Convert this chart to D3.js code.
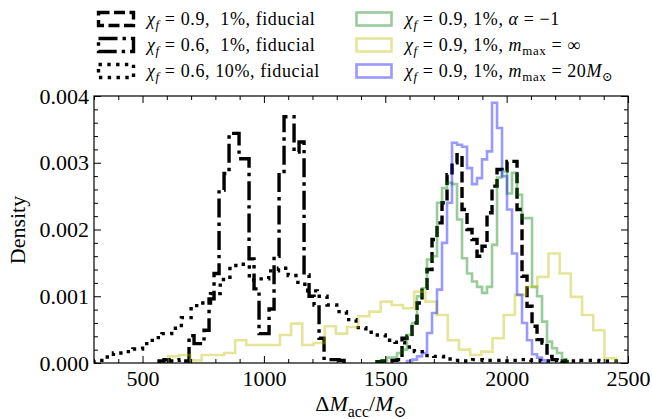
<!DOCTYPE html>
<html>
<head>
<meta charset="utf-8">
<style>
  body { margin: 0; background: #fff; }
  svg text { font-family: "Liberation Serif", "DejaVu Serif", serif; fill: #000; }
</style>
</head>
<body>
<div id="graphic"></div>
<script src="https://cdn.jsdelivr.net/npm/d3@7/dist/d3.min.js"></script>
<script>
// ---- data (densities) ----
// chi_f = 0.9, 1%, fiducial  (black dashed)
var fid09Start = 1466, fid09Width = 20.6;
var fid09 = [0.00002, 0.00003, 0.00003, 0.00004, 0.00005, 0.00037, 0.00040, 0.00060, 0.00090, 0.00112,
             0.00140, 0.00185, 0.00210, 0.00240, 0.00282, 0.00300, 0.00312, 0.00230, 0.00200, 0.00185,
             0.00160, 0.00175, 0.00225, 0.00265, 0.00290, 0.00288, 0.00302, 0.00302, 0.00230, 0.00130,
             0.00085, 0.00055, 0.00035, 0.00030, 0.00010, 0.00005, 0.00003, 0.00002];

// chi_f = 0.6, 1%, fiducial  (black dash-dot)
var fid06Start = 568, fid06Width = 20.6;
var fid06 = [0.00003, 0.00005, 0.00003, 0.00004, 0.00005, 0.00003, 0.00041, 0.00029, 0.00029, 0.00049,
             0.00096, 0.00134, 0.00259, 0.00284, 0.00344, 0.00344, 0.00306, 0.00306, 0.00156, 0.00111,
             0.00044, 0.00044, 0.00081, 0.00160, 0.00287, 0.00369, 0.00369, 0.00316, 0.00331, 0.00132,
             0.00100, 0.00087, 0.00037, 0.00007, 0.00005, 0.00005, 0.00004];

// chi_f = 0.6, 10%, fiducial  (black dotted)
var wide06Start = 300, wide06Width = 40;
var wide06 = [0.00004, 0.00009, 0.00015, 0.00017, 0.00021, 0.00029, 0.00038, 0.00044, 0.00052, 0.00068,
              0.00086, 0.00090, 0.00104, 0.00125, 0.00146, 0.00148, 0.00124, 0.00126, 0.00138, 0.00142,
              0.00131, 0.00118, 0.00108, 0.00100, 0.00087, 0.00077, 0.00065, 0.00053, 0.00046, 0.00042,
              0.00034, 0.00031, 0.00024, 0.00017, 0.00011, 0.00010, 0.00006, 0.00004, 0.00003, 0.00005,
              0.00004, 0.00004, 0.00003, 0.00004, 0.00005, 0.00004, 0.00003, 0.00004, 0.00004, 0.00003,
              0.00004, 0.00004, 0.00003, 0.00003];

// chi_f = 0.9, 1%, alpha = -1  (green)
var alphaStart = 1466, alphaWidth = 20.6;
var alphaM1 = [0.00002, 0.00004, 0.00008, 0.00008, 0.00015, 0.00020, 0.00042, 0.00060, 0.00100, 0.00112,
               0.00155, 0.00160, 0.00240, 0.00262, 0.00270, 0.00268, 0.00215, 0.00157, 0.00134, 0.00122,
               0.00114, 0.00105, 0.00114, 0.00177, 0.00278, 0.00287, 0.00254, 0.00285, 0.00252, 0.00217,
               0.00217, 0.00114, 0.00100, 0.00062, 0.00032, 0.00022, 0.00015, 0.00005];

// chi_f = 0.9, 1%, m_max = inf  (yellow)
var mInfStart = 605, mInfWidth = 46.1;
var mInf = [0.00010, 0.00012, 0.00004, 0.00012, 0.00012, 0.00015, 0.00034, 0.00027, 0.00027, 0.00027,
            0.00042, 0.00059, 0.00027, 0.00030, 0.00055, 0.00044, 0.00054, 0.00070, 0.00077, 0.00092,
            0.00087, 0.00082, 0.00107, 0.00092, 0.00072, 0.00034, 0.00020, 0.00012, 0.00017, 0.00037,
            0.00072, 0.00102, 0.00114, 0.00129, 0.00164, 0.00134, 0.00099, 0.00072, 0.00049, 0.00007];

// chi_f = 0.9, 1%, m_max = 20 Msun  (blue)
var m20Start = 1589.6, m20Width = 20.6;
var m20 = [0.00003, 0.00005, 0.00010, 0.00015, 0.00045, 0.00075, 0.00110, 0.00180, 0.00240, 0.00330,
           0.00327, 0.00324, 0.00292, 0.00268, 0.00277, 0.00305, 0.00317, 0.00390, 0.00352, 0.00280,
           0.00230, 0.00164, 0.00102, 0.00060, 0.00034, 0.00013, 0.00008, 0.00004];

var xTicks = [500, 1000, 1500, 2000, 2500];
var yTicks = [0, 0.001, 0.002, 0.003, 0.004];

// ---- layout ----
var W = 652, H = 419;
var plotL = 94, plotR = 628, plotT = 96, plotB = 363;
var fs = 22;
var serif = '"Liberation Serif", "DejaVu Serif", serif';

var svg = d3.select("#graphic").append("svg")
    .attr("width", W).attr("height", H);

var x = d3.scaleLinear().domain([300, 2500]).range([plotL, plotR]);
var y = d3.scaleLinear().domain([0, 0.004]).range([plotB, plotT]);

svg.append("clipPath").attr("id", "plotclip")
  .append("rect").attr("x", plotL).attr("y", plotT)
  .attr("width", plotR - plotL).attr("height", plotB - plotT);

var series = [
  {start: fid09Start, width: fid09Width, vals: fid09, color: "#000", op: 1, lw: 3.4, dash: "11,4.5"},
  {start: fid06Start, width: fid06Width, vals: fid06, color: "#000", op: 1, lw: 3.4, dash: "19,5,3.4,5"},
  {start: wide06Start, width: wide06Width, vals: wide06, color: "#000", op: 1, lw: 3.4, dash: "3.4,5.4"},
  {start: alphaStart, width: alphaWidth, vals: alphaM1, color: "green", op: 0.4, lw: 2.6, dash: null},
  {start: mInfStart, width: mInfWidth, vals: mInf, color: "#bfbf00", op: 0.4, lw: 2.6, dash: null},
  {start: m20Start, width: m20Width, vals: m20, color: "blue", op: 0.4, lw: 2.6, dash: null}
];

// step outline like histtype='step'
function stepPoints(s) {
  var pts = [[s.start, 0]];
  s.vals.forEach(function (v, i) {
    pts.push([s.start + i * s.width, v]);
    pts.push([s.start + (i + 1) * s.width, v]);
  });
  pts.push([s.start + s.vals.length * s.width, 0]);
  return pts;
}

var line = d3.line()
    .x(function (d) { return x(d[0]); })
    .y(function (d) { return y(d[1]); });

var plot = svg.append("g").attr("clip-path", "url(#plotclip)");
series.forEach(function (s) {
  plot.append("path")
    .attr("d", line(stepPoints(s)))
    .attr("fill", "none")
    .attr("stroke", s.color)
    .attr("stroke-opacity", s.op)
    .attr("stroke-width", s.lw)
    .attr("stroke-dasharray", s.dash)
    .attr("stroke-linejoin", "miter");
});

// ---- axes (ticks inward on all sides) ----
var xMinor = d3.range(300, 2501, 100).filter(function (v) { return v % 500 !== 0; });
var yMinor = d3.range(0, 0.00401, 0.0002).filter(function (v) { return Math.abs(v * 1000 - Math.round(v * 1000)) > 1e-6; });

function styleAxis(g) {
  g.select(".domain").remove();
  g.selectAll("line").attr("stroke", "#000").attr("stroke-width", 1);
  g.selectAll("text").attr("font-size", fs).attr("font-family", serif).attr("fill", "#000");
}

svg.append("g").attr("transform", "translate(0," + plotB + ")")
  .call(d3.axisBottom(x).tickValues(xTicks).tickSize(-7).tickPadding(7).tickFormat(d3.format("d")))
  .call(styleAxis);
svg.append("g").attr("transform", "translate(0," + plotB + ")")
  .call(d3.axisBottom(x).tickValues(xMinor).tickSize(-4).tickFormat(""))
  .call(styleAxis);
svg.append("g").attr("transform", "translate(0," + plotT + ")")
  .call(d3.axisTop(x).tickValues(xTicks).tickSize(-7).tickFormat(""))
  .call(styleAxis);
svg.append("g").attr("transform", "translate(0," + plotT + ")")
  .call(d3.axisTop(x).tickValues(xMinor).tickSize(-4).tickFormat(""))
  .call(styleAxis);

svg.append("g").attr("transform", "translate(" + plotL + ",0)")
  .call(d3.axisLeft(y).tickValues(yTicks).tickSize(-7).tickPadding(5).tickFormat(d3.format(".3f")))
  .call(styleAxis);
svg.append("g").attr("transform", "translate(" + plotL + ",0)")
  .call(d3.axisLeft(y).tickValues(yMinor).tickSize(-4).tickFormat(""))
  .call(styleAxis);
svg.append("g").attr("transform", "translate(" + plotR + ",0)")
  .call(d3.axisRight(y).tickValues(yTicks).tickSize(-7).tickFormat(""))
  .call(styleAxis);
svg.append("g").attr("transform", "translate(" + plotR + ",0)")
  .call(d3.axisRight(y).tickValues(yMinor).tickSize(-4).tickFormat(""))
  .call(styleAxis);

svg.append("rect")
  .attr("x", plotL).attr("y", plotT)
  .attr("width", plotR - plotL).attr("height", plotB - plotT)
  .attr("fill", "none").attr("stroke", "#000").attr("stroke-width", 1.2);

// ---- rich text helper: parts = [text, style] ; style: "", "i", "s" (sub), "si" (sub italic)
function rich(sel, parts, size) {
  var shift = 0;
  parts.forEach(function (p) {
    var sub = p[1].indexOf("s") >= 0;
    var ns = sub ? size * 0.25 : 0;
    var t = sel.append("tspan").text(p[0]).attr("dy", ns - shift);
    shift = ns;
    if (sub) t.attr("font-size", size * 0.72);
    if (p[1].indexOf("i") >= 0) t.attr("font-style", "italic");
  });
}

// axis labels
var xl = svg.append("text").attr("x", 361).attr("y", 411)
  .attr("text-anchor", "middle").attr("font-size", fs).attr("font-family", serif);
rich(xl, [["Δ", ""], ["M", "i"], ["acc", "s"], ["/", ""], ["M", "i"], ["⊙", "s"]], fs);

svg.append("text")
  .attr("transform", "translate(25,230) rotate(-90)")
  .attr("text-anchor", "middle").attr("font-size", fs).attr("font-family", serif)
  .text("Density");

// ---- legend ----
var lfs = 18;
var legendItems = [
  {col: 0, row: 0, s: series[0], parts: [["χ", "i"], ["f", "si"], [" = 0.9,  1%, fiducial", ""]]},
  {col: 0, row: 1, s: series[1], parts: [["χ", "i"], ["f", "si"], [" = 0.6,  1%, fiducial", ""]]},
  {col: 0, row: 2, s: series[2], parts: [["χ", "i"], ["f", "si"], [" = 0.6, 10%, fiducial", ""]]},
  {col: 1, row: 0, s: series[3], parts: [["χ", "i"], ["f", "si"], [" = 0.9, 1%, ", ""], ["α", "i"], [" = −1", ""]]},
  {col: 1, row: 1, s: series[4], parts: [["χ", "i"], ["f", "si"], [" = 0.9, 1%, ", ""], ["m", "i"], ["max", "s"], [" = ∞", ""]]},
  {col: 1, row: 2, s: series[5], parts: [["χ", "i"], ["f", "si"], [" = 0.9, 1%, ", ""], ["m", "i"], ["max", "s"], [" = 20", ""], ["M", "i"], ["⊙", "s"]]}
];
var colX = [97, 355], rowY = [19, 45, 71];

var lg = svg.append("g");
legendItems.forEach(function (it) {
  var hx = colX[it.col], cy = rowY[it.row];
  lg.append("rect")
    .attr("x", hx + 1.5).attr("y", cy - 6.5)
    .attr("width", 35).attr("height", 13)
    .attr("fill", "none")
    .attr("stroke", it.s.color)
    .attr("stroke-opacity", it.s.op)
    .attr("stroke-width", it.s.lw)
    .attr("stroke-dasharray", it.s.dash);
  var t = lg.append("text")
    .attr("x", hx + 50).attr("y", cy + 5.5)
    .attr("font-size", lfs)
    .attr("font-family", serif)
    .attr("letter-spacing", 0.6)
    .style("white-space", "pre");
  rich(t, it.parts, lfs);
});
</script>
</body>
</html>
